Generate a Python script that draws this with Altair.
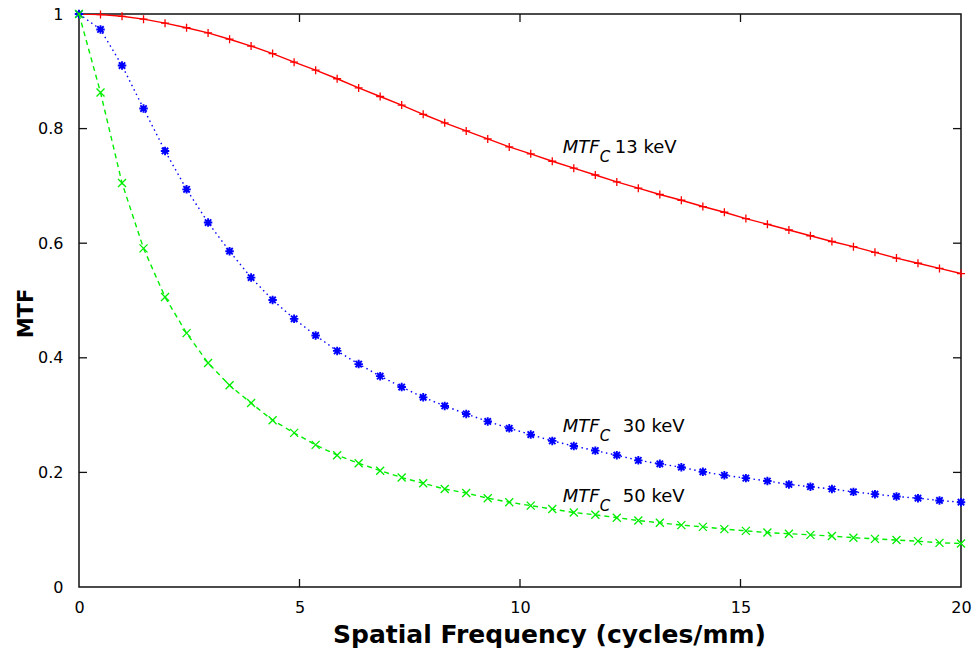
import altair as alt
import pandas as pd

# Spatial frequency sample points (cycles/mm)
freq = [0.0, 0.4878, 0.9756, 1.4634, 1.9512, 2.4390, 2.9268, 3.4146, 3.9024, 4.3902,
        4.8780, 5.3659, 5.8537, 6.3415, 6.8293, 7.3171, 7.8049, 8.2927, 8.7805, 9.2683,
        9.7561, 10.2439, 10.7317, 11.2195, 11.7073, 12.1951, 12.6829, 13.1707, 13.6585,
        14.1463, 14.6341, 15.1220, 15.6098, 16.0976, 16.5854, 17.0732, 17.5610, 18.0488,
        18.5366, 19.0244, 19.5122, 20.0]

mtf_13 = [1.0, 0.999, 0.996, 0.991, 0.984, 0.976, 0.967, 0.956, 0.944, 0.931,
          0.916, 0.902, 0.887, 0.871, 0.856, 0.841, 0.825, 0.810, 0.796, 0.782,
          0.768, 0.756, 0.743, 0.731, 0.719, 0.707, 0.696, 0.685, 0.675, 0.664,
          0.654, 0.643, 0.633, 0.623, 0.613, 0.603, 0.594, 0.584, 0.574, 0.565,
          0.556, 0.547]

mtf_30 = [1.0, 0.973, 0.910, 0.835, 0.761, 0.694, 0.636, 0.586, 0.540, 0.501,
          0.468, 0.439, 0.412, 0.389, 0.368, 0.349, 0.331, 0.316, 0.302, 0.289,
          0.277, 0.266, 0.255, 0.246, 0.238, 0.230, 0.221, 0.215, 0.209, 0.201,
          0.195, 0.190, 0.185, 0.179, 0.175, 0.171, 0.166, 0.162, 0.158, 0.155,
          0.151, 0.148]

mtf_50 = [1.0, 0.863, 0.705, 0.591, 0.506, 0.443, 0.391, 0.352, 0.321, 0.291,
          0.269, 0.248, 0.230, 0.216, 0.203, 0.191, 0.181, 0.171, 0.164, 0.155,
          0.148, 0.142, 0.136, 0.130, 0.126, 0.121, 0.116, 0.112, 0.108, 0.105,
          0.101, 0.098, 0.095, 0.093, 0.091, 0.089, 0.086, 0.084, 0.082, 0.080,
          0.077, 0.076]

x_ticks = [0, 5, 10, 15, 20]
y_ticks = [0, 0.2, 0.4, 0.6, 0.8, 1.0]

W, H = 882, 573
FONT = "DejaVu Sans"

xs = alt.Scale(domain=[0, 20], nice=False, zero=False)
ys = alt.Scale(domain=[0, 1], nice=False, zero=False)

X_AX = alt.Axis(values=x_ticks, ticks=False, domain=False, grid=False,
                labelFont=FONT, labelFontSize=16, labelColor="black",
                labelPadding=12, format="d", labelFlush=False,
                titleFont=FONT, titleFontSize=25, titleFontWeight="bold",
                titleColor="black", titleY=55, titleX=470, titleAlign="center",
                titleBaseline="alphabetic")
Y_AX = alt.Axis(values=y_ticks, ticks=False, domain=False, grid=False,
                labelFont=FONT, labelFontSize=16, labelColor="black",
                labelPadding=16, format="~g", labelFlush=False,
                titleFont=FONT, titleFontSize=21, titleFontWeight="bold",
                titleColor="black", titleX=-47, titleY=299,
                titleBaseline="alphabetic", titleAngle=270)
X_TITLE = "Spatial Frequency (cycles/mm)"
Y_TITLE = "MTF"


def X(field="f"):
    return alt.X(f"{field}:Q", scale=xs, axis=X_AX, title=X_TITLE)


def Y(field="m"):
    return alt.Y(f"{field}:Q", scale=ys, axis=Y_AX, title=Y_TITLE)


series = [
    ("13", mtf_13, "#ff0000", [], "M-1,0L1,0M0,-1L0,1", 1.3, 64),
    ("30", mtf_30, "#0000ff", [1.5, 3.5], "M-1,0L1,0M0,-1L0,1M-0.75,-0.75L0.75,0.75M-0.75,0.75L0.75,-0.75", 1.9, 72),
    ("50", mtf_50, "#00ee00", [5, 4], "M-1,-1L1,1M-1,1L1,-1", 1.3, 64),
]

layers = []
for name, vals, col, dash, shape, sw, sz in series:
    df = pd.DataFrame({"f": freq, "m": vals})
    base = alt.Chart(df).encode(x=X(), y=Y())
    line_kw = dict(color=col, strokeWidth=1.4, clip=True)
    if dash:
        line_kw["strokeDash"] = dash
    layers.append(base.mark_line(**line_kw))
    layers.append(base.mark_point(shape=shape, filled=False, stroke=col, strokeWidth=sw,
                                  size=sz, opacity=1, clip=False))

# Inward ticks on all four sides
tx = pd.DataFrame({"f": x_ticks[1:-1]})
ty = pd.DataFrame({"m": y_ticks[1:-1]})
tick_style = dict(color="#111111", strokeWidth=1.3)
layers.append(alt.Chart(tx).mark_rule(**tick_style).encode(
    x=X(), y=alt.value(H), y2=alt.value(H - 8)))
layers.append(alt.Chart(tx).mark_rule(**tick_style).encode(
    x=X(), y=alt.value(0), y2=alt.value(8)))
layers.append(alt.Chart(ty).mark_rule(**tick_style).encode(
    y=Y(), x=alt.value(0), x2=alt.value(8)))
layers.append(alt.Chart(ty).mark_rule(**tick_style).encode(
    y=Y(), x=alt.value(W), x2=alt.value(W - 8)))

# Curve annotations
ann_x = [10.97, 10.97, 10.97]
ann_y = [0.758, 0.270, 0.149]
ann_energy = ["13 keV", "30 keV", "50 keV"]
ann_gap = [52, 60, 60]

ann_df = pd.DataFrame({"f": ann_x, "m": ann_y, "e": ann_energy})
ann_base = alt.Chart(ann_df).encode(x=X(), y=Y())
layers.append(ann_base.mark_text(align="left", baseline="alphabetic", font=FONT,
                                 fontSize=18, fontStyle="italic", color="black").encode(
    text=alt.value("MTF")))
layers.append(ann_base.mark_text(align="left", baseline="alphabetic", font=FONT,
                                 fontSize=15, fontStyle="italic", color="black",
                                 dx=37, dy=9).encode(text=alt.value("C")))
for i, e in enumerate(ann_energy):
    sub = ann_df.iloc[[i]]
    layers.append(alt.Chart(sub).mark_text(align="left", baseline="alphabetic", font=FONT,
                                           fontSize=18, color="black",
                                           dx=ann_gap[i]).encode(
        x=X(), y=Y(), text="e:N"))

chart = alt.layer(*layers).properties(
    width=W, height=H,
    autosize=alt.AutoSizeParams(type="none"),
    padding={"left": 79, "top": 14, "right": 13, "bottom": 64},
    background="white",
).configure_view(stroke="#111111", strokeWidth=1.5)

chart.save("out.html", embed_options={"renderer": "svg", "actions": False})
